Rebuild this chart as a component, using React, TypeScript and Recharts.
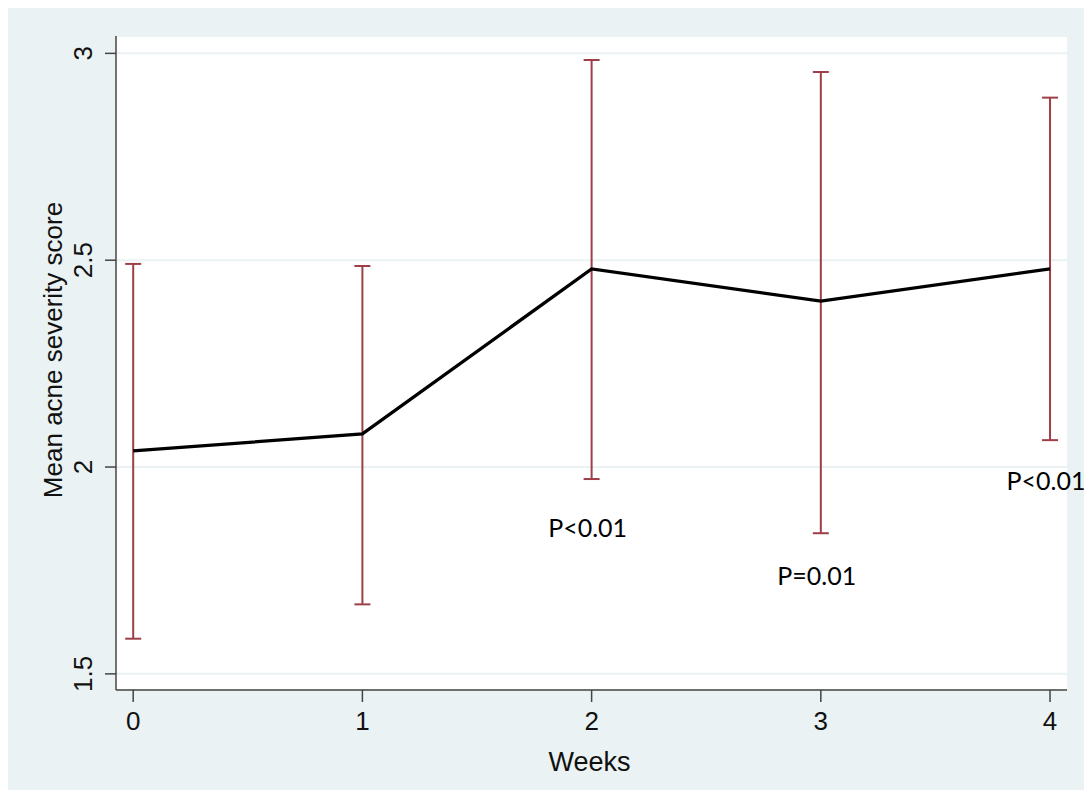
import { CartesianGrid, ComposedChart, ErrorBar, Label, Line, Scatter, XAxis, YAxis } from 'recharts';

const weeks = [0, 1, 2, 3, 4];
const meanScore = [2.039, 2.08, 2.479, 2.401, 2.479];
const ciLow = [1.585, 1.668, 1.971, 1.84, 2.065];
const ciHigh = [2.491, 2.486, 2.984, 2.955, 2.893];
const pLabels = ['', '', 'P<0.01', 'P=0.01', 'P<0.01'];
const pLabelY = [null, null, 1.853, 1.735, 1.966];

const yTicks = [1.5, 2, 2.5, 3];
const xTicks = [0, 1, 2, 3, 4];

const data = weeks.map((w, i) => ({
  week: w,
  mean: meanScore[i],
  err: [meanScore[i] - ciLow[i], ciHigh[i] - meanScore[i]],
  pY: pLabelY[i],
  p: pLabels[i],
}));

const BG = '#eaf2f3';
const AXIS = '#444';
const TICK_FONT = '"Liberation Sans", Arial, sans-serif';

function YTick({ x, y, payload }: any) {
  return (
    <text
      x={x}
      y={y}
      transform={`rotate(-90 ${x} ${y})`}
      textAnchor="middle"
      fontFamily={TICK_FONT}
      fontSize={26}
      fill="#111"
    >
      {payload.value}
    </text>
  );
}

function XTick({ x, y, payload }: any) {
  return (
    <text x={x} y={y} dy="0.71em" textAnchor="middle" fontFamily={TICK_FONT} fontSize={26} fill="#111">
      {payload.value}
    </text>
  );
}

function PText(props: any) {
  const { cx, cy, payload } = props;
  if (!payload || !payload.p || cy == null || isNaN(cy)) return <g />;
  return (
    <text
      x={cx - 4}
      y={cy}
      dy="0.35em"
      textAnchor="middle"
      fontFamily="Lato, 'Open Sans', sans-serif"
      fontSize={25}
      fill="#000"
    >
      {payload.p}
    </text>
  );
}

export default function App() {
  return (
    <div style={{ width: 1080, height: 782, background: BG }}>
      <ComposedChart
        width={1080}
        height={782}
        data={data}
        margin={{ top: 28, right: 21, bottom: 0, left: 0 }}
        style={{ overflow: 'visible' }}
      >
        <CartesianGrid vertical={false} horizontal stroke={BG} strokeWidth={2} fill="#ffffff" />
        <XAxis
          dataKey="week"
          type="number"
          domain={[-0.075, 4.074]}
          ticks={xTicks}
          height={100}
          stroke={AXIS}
          strokeWidth={1.5}
          tickSize={12}
          tickMargin={10}
          tick={<XTick />}
        >
          <Label
            content={({ viewBox }: any) => (
              <text
                x={viewBox.x + viewBox.width / 2 - 2}
                y={763}
                textAnchor="middle"
                fontFamily={TICK_FONT}
                fontSize={27}
                fill="#111"
              >
                Weeks
              </text>
            )}
          />
        </XAxis>
        <YAxis
          type="number"
          domain={[1.461, 3.042]}
          ticks={yTicks}
          width={108}
          stroke={AXIS}
          strokeWidth={1.5}
          tickSize={11}
          tickMargin={13}
          tick={<YTick />}
        >
          <Label
            content={() => (
              <text
                x={45}
                y={342}
                transform="rotate(-90 45 342)"
                textAnchor="middle"
                dominantBaseline="central"
                fontFamily={TICK_FONT}
                fontSize={26}
                fill="#111"
              >
                Mean acne severity score
              </text>
            )}
          />
        </YAxis>
        <Line
          dataKey="mean"
          stroke="#000"
          strokeWidth={3.3}
          dot={false}
          activeDot={false}
          isAnimationActive={false}
        >
          <ErrorBar dataKey="err" direction="y" width={8} stroke="#9e3f48" strokeWidth={2} />
        </Line>
        <Scatter dataKey="pY" shape={<PText />} isAnimationActive={false} />
      </ComposedChart>
    </div>
  );
}
